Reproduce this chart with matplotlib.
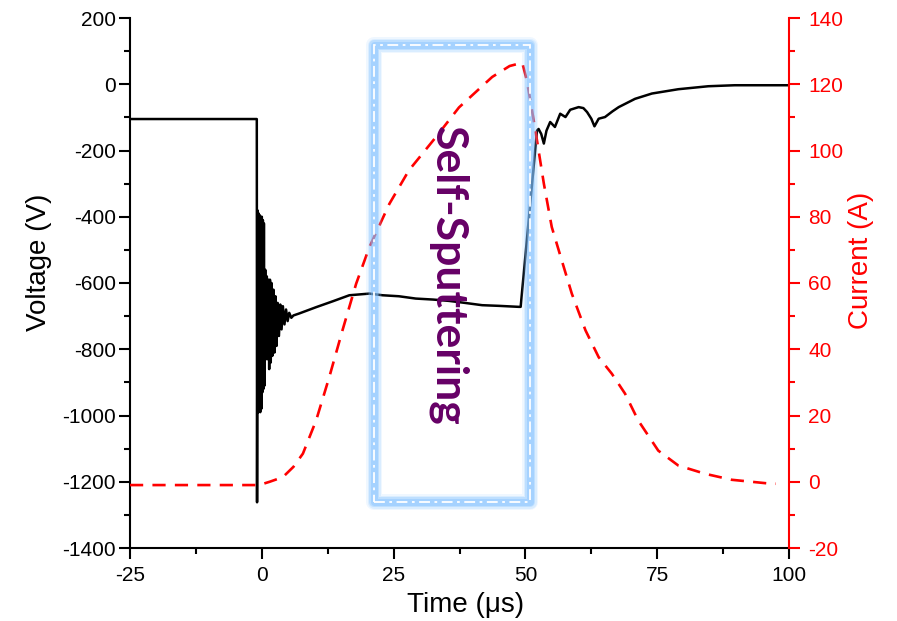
import matplotlib
matplotlib.use("Agg")
import matplotlib.pyplot as plt
from matplotlib.patches import Rectangle

plt.rcParams['font.family'] = ['Liberation Sans', 'DejaVu Sans']
plt.rcParams['axes.unicode_minus'] = False

# Voltage trace (time in us, voltage in V)
volt_t = [-25, -0.95, -0.9, -0.8, -0.7, -0.6, -0.5, -0.4, -0.3, -0.2, -0.1, 0.0, 0.1, 0.2, 0.3,
          0.4, 0.5, 0.65, 0.8, 0.95, 1.1, 1.25, 1.4, 1.55, 1.7, 1.85, 2.0, 2.2, 2.4, 2.6, 2.8,
          3.0, 3.25, 3.5, 3.75, 4.0, 4.3, 4.6, 4.9, 5.2, 5.6, 6.0, 7.1, 10.3, 13.5, 16.6, 20.4,
          22.9, 26.0, 29.2, 32.5, 35.5, 38.5, 41.8, 45.0, 48.75, 49.1, 52.2, 52.5, 53.0, 53.5,
          54.0, 54.7, 55.6, 56.6, 57.6, 58.5, 60.1, 61.0, 61.7, 62.5, 63.1, 63.9, 65.1, 66.5,
          67.7, 70.8, 74.0, 79.0, 84.7, 89.7, 100]
volt_v = [-105, -105, -1262, -381, -990, -390, -985, -395, -990, -400, -980, -400, -930, -410, -920,
          -420, -910, -560, -830, -580, -830, -590, -860, -590, -840, -600, -820, -620, -810, -640, -790,
          -660, -760, -665, -740, -670, -725, -680, -715, -690, -705, -698, -692, -673, -655, -637, -632,
          -637, -640, -647, -650, -654, -660, -667, -669, -672, -672, -140, -135, -150, -179,
          -140, -114, -129, -89, -99, -77, -69, -72, -84, -104, -127, -104, -99, -82,
          -69, -44, -28, -15, -6, -3, -3]

# Current trace (time in us, current in A)
curr_t = [-25, -0.5, 1.5, 4.0, 6.0, 7.8, 10.3, 12.8, 15.3, 17.9, 20.4, 24.2, 27.9, 33.0, 37.4,
          43.7, 47.0, 49.4, 50.3, 51.9, 53.5, 55.0, 56.9, 58.8, 61.4, 63.9, 66.4, 68.9, 71.4,
          75.2, 79.0, 84.1, 89.1, 96.6, 97.5]
curr_i = [-1, -1, 0, 1.4, 4.5, 8.5, 18.5, 31.6, 45.7, 59.8, 70.8, 83.9, 94.0, 104, 113,
          122.2, 125.5, 126.5, 121, 106, 90, 76.9, 66.8, 56.8, 45.7, 37.6, 32.6, 26.6, 18.5,
          9.4, 4.9, 2.4, 0.6, -0.6, -0.6]

x_ticks = [-25, 0, 25, 50, 75, 100]
v_ticks = [200, 0, -200, -400, -600, -800, -1000, -1200, -1400]
i_ticks = [140, 120, 100, 80, 60, 40, 20, 0, -20]

# Highlight box (time range, voltage range)
box_t = [21.3, 50.9]
box_v = [-1262, 117]
label_text = "Self-Sputtering"

W, H = 897, 621
fig = plt.figure(figsize=(W / 100, H / 100), dpi=100)
ax = fig.add_axes([130 / W, 1 - 548 / H, (789 - 130) / W, (548 - 18) / H])
ax2 = ax.twinx()

ax.plot(volt_t, volt_v, color='black', lw=1.8, zorder=3)
ax2.plot(curr_t, curr_i, color='red', lw=1.9, dashes=(5, 3.5), zorder=3)

ax.set_xlim(-25, 100)
ax.set_ylim(-1400, 200)
ax2.set_ylim(-20, 140)
ax.set_xticks(x_ticks)
ax.set_yticks(v_ticks)
ax2.set_yticks(i_ticks)
ax.set_xticks([-12.5, 12.5, 37.5, 62.5, 87.5], minor=True)
ax.set_yticks([100, -100, -300, -500, -700, -900, -1100, -1300], minor=True)
ax2.set_yticks([130, 110, 90, 70, 50, 30, 10, -10], minor=True)

for a in (ax, ax2):
    a.spines['top'].set_visible(False)
    for s in a.spines.values():
        s.set_linewidth(1.5)
ax2.spines['left'].set_visible(False)
ax2.spines['bottom'].set_visible(False)
ax.spines['right'].set_visible(False)
ax2.spines['right'].set_color('red')

ax.tick_params(axis='y', which='major', direction='out', length=8, width=1.5,
               labelsize=15, colors='black', pad=2)
ax.tick_params(axis='x', which='major', direction='out', length=8, width=1.5,
               labelsize=15, colors='black', pad=5)
ax.tick_params(axis='both', which='minor', direction='out', length=4.5, width=1.5)
ax2.tick_params(axis='y', which='major', direction='out', length=8, width=1.5,
                labelsize=15, colors='red', pad=6)
ax2.tick_params(axis='y', which='minor', direction='out', length=4.5, width=1.5, colors='red')

fig.text(466 / W, 1 - 605 / H, 'Time (\u03bcs)', fontsize=20, ha='center', va='center')
fig.text(38.5 / W, 1 - 262 / H, 'Voltage (V)', fontsize=20, ha='center', va='center',
         rotation=90)
fig.text(861 / W, 1 - 260 / H, 'Current (A)', fontsize=20, ha='center', va='center',
         rotation=90, color='red')

# glowing box
w = box_t[1] - box_t[0]
h = box_v[1] - box_v[0]
for lw, alpha in [(16, 0.12), (13, 0.18), (10, 0.3), (7, 0.4)]:
    r = Rectangle((box_t[0], box_v[0]), w, h, transform=ax.transData, fill=False,
                  edgecolor='#80c0ff', lw=lw * 0.72, alpha=alpha, zorder=5, joinstyle='round')
    ax2.add_patch(r)
r = Rectangle((box_t[0], box_v[0]), w, h, transform=ax.transData, fill=False,
              edgecolor='white', lw=1.3, linestyle=(0, (6, 2.5, 1.5, 2.5)), zorder=6)
ax2.add_patch(r)

ax2.text(35.3, -577, label_text, transform=ax.transData, rotation=-90,
         ha='center', va='center', fontsize=32, color='#660066',
         family=['Lato', 'DejaVu Sans'], fontweight='bold', zorder=7)

fig.savefig('out.png', dpi=100)
